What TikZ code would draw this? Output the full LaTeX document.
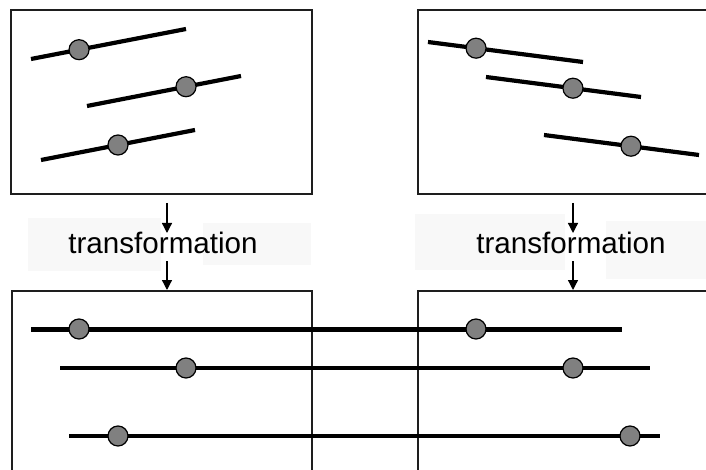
\documentclass[tikz,border=0pt]{standalone}
\usepackage{fontspec}
\setmainfont{Liberation Sans}
\usetikzlibrary{arrows.meta}
\definecolor{beadgray}{RGB}{128,128,128}
\definecolor{haze}{RGB}{248,248,248}
\definecolor{framec}{RGB}{30,30,30}
\begin{document}
\begin{tikzpicture}[x=1pt,y=-1pt,
  frame/.style={draw=framec,line width=2pt},
  rod/.style={line width=4.2pt,black},
  bead/.style={circle,draw=black,line width=1.2pt,fill=beadgray,minimum size=20pt,inner sep=0pt},
  shade/.style={fill=haze,draw=none},
  label/.style={font=\fontsize{29.6pt}{30pt}\selectfont,anchor=base,inner sep=0pt},
  flow/.style={line width=1.3pt,-{Triangle[width=10pt,length=10pt]}}]
\useasboundingbox (0,0) rectangle (706,470);
\clip (0,0) rectangle (706,470);
\fill[white] (0,0) rectangle (706,470);

% light backdrops behind the captions
\fill[shade] (28,218) rectangle (161,271);
\fill[shade] (203,223) rectangle (311,265);
\fill[shade] (415,214) rectangle (565,270);
\fill[shade] (606,221) rectangle (712,279);

% panels
\draw[frame] (11,10) rectangle (312,194);
\draw[frame] (418,10) rectangle (712,194);
\draw[frame] (12,290.5) rectangle (312,480);
\draw[frame] (418,290.5) rectangle (712,480);

% tilted rods, upper left
\draw[rod] (31,59) -- (186,29) node[bead,pos=0.31] (a1) {};
\draw[rod] (87,106) -- (241,76) node[bead,pos=0.643] (a2) {};
\draw[rod] (41,160) -- (195,130) node[bead,pos=0.5] (a3) {};

% tilted rods, upper right
\draw[rod] (428,42) -- (583,62) node[bead,pos=0.31] (b1) {};
\draw[rod] (486,77) -- (641,97) node[bead,pos=0.561] (b2) {};
\draw[rod] (544,135) -- (699,155) node[bead,pos=0.561] (b3) {};

% aligned rods across the lower panels
\draw[rod,line width=5pt] (31,329) -- (622,329);
\draw[rod,line width=3.3pt] (60,368) -- (650,368);
\draw[rod] (69,436) -- (660,436);
\node[bead] (c1) at (79,329) {};
\node[bead] (d1) at (476,329) {};
\node[bead] (c2) at (186,368) {};
\node[bead] (d2) at (573,368) {};
\node[bead] (c3) at (118,436) {};
\node[bead] (d3) at (630,436) {};

% captions
\node[label] (tL) at (163,254) {transformation};
\node[label] (tR) at (571,254) {transformation};

% arrows
\coordinate (l1) at (167,203);
\coordinate (l2) at (167,233);
\coordinate (l3) at (167,261);
\coordinate (l4) at (167,290);
\coordinate (r1) at (573,203);
\coordinate (r2) at (573,233);
\coordinate (r3) at (573,261);
\coordinate (r4) at (573,290);
\draw[flow] (l1) -- (l2);
\draw[flow] (l3) -- (l4);
\draw[flow] (r1) -- (r2);
\draw[flow] (r3) -- (r4);
\end{tikzpicture}
\end{document}
